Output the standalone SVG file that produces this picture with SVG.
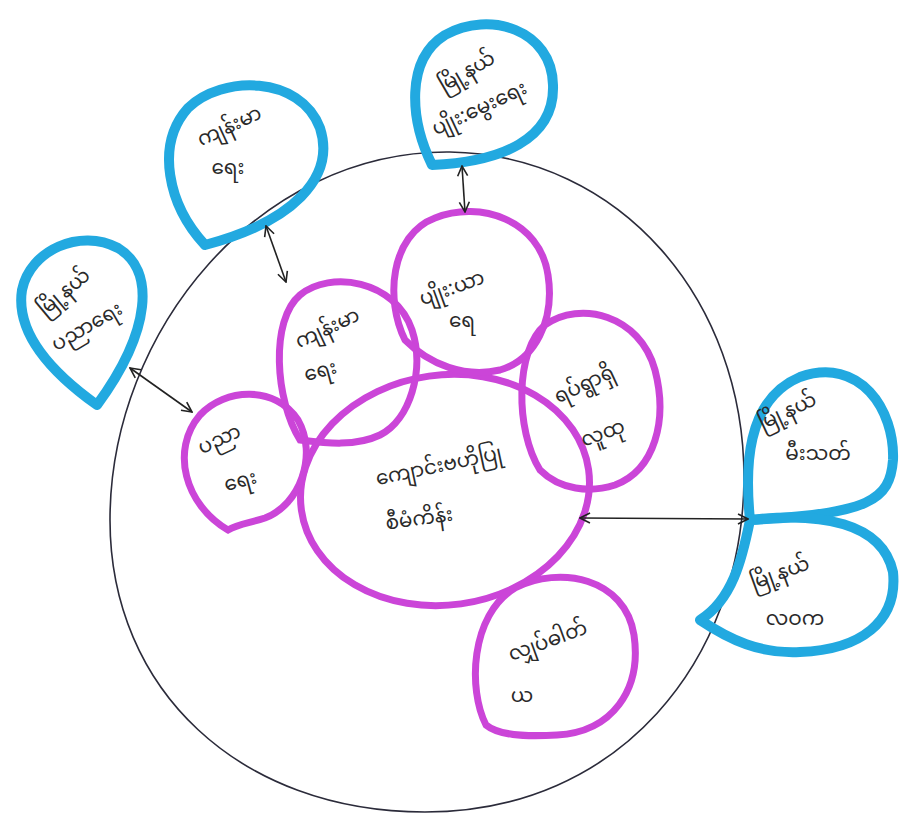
<svg xmlns="http://www.w3.org/2000/svg" width="901" height="818" viewBox="0 0 901 818">
<defs>
<style>
.blue{fill:none;stroke:#22A9E0;stroke-width:10;stroke-linejoin:round}
.purple{fill:none;stroke:#CB45D8;stroke-width:7}
.t{font-family:"Noto Sans Myanmar","Padauk","Myanmar Text","Noto Sans","DejaVu Sans",sans-serif;font-size:20px;fill:#2a2a2a}
.conn{stroke:#222;stroke-width:1.6;fill:none}
</style>
<marker id="ah" viewBox="0 0 12 12" refX="11" refY="6" markerWidth="12" markerHeight="12" markerUnits="userSpaceOnUse" orient="auto-start-reverse">
<path d="M1,1 L11,6 L1,11" fill="none" stroke="#222" stroke-width="1.6"/>
</marker>
</defs>
<rect width="901" height="818" fill="#ffffff"/>
<g id="boundary">
<path d="M450,152 C620,155 745,300 744,480 C742,660 620,812 425,812 C240,812 110,690 110,520 C110,330 260,150 450,152 Z" fill="none" stroke="#2b2b3a" stroke-width="1.6"/>
</g>
<g id="n-center">
<ellipse cx="445" cy="490" rx="145" ry="115" transform="rotate(-8 445 490)" class="purple"/>
<text class="t" x="440" y="472" text-anchor="middle" transform="rotate(-12 440 472)">ကျောင်းဗဟိုပြု</text>
<text class="t" x="420" y="525" text-anchor="middle" transform="rotate(-8 420 525)">စီမံကိန်း</text>
</g>
<g id="n-education">
<path d="M228,530 C185,505 170,450 200,415 C225,388 275,385 298,420 C318,455 300,505 265,518 C250,523 238,524 228,530 Z" class="purple"/>
<text class="t" x="222" y="445" text-anchor="middle" transform="rotate(-25 222 445)">ပညာ</text>
<text class="t" x="242" y="487" text-anchor="middle" transform="rotate(-15 242 487)">ရေး</text>
</g>
<g id="n-health">
<path d="M300,440 C275,400 270,320 300,295 C330,270 395,280 412,330 C425,370 410,420 380,435 C355,447 325,443 300,440 Z" class="purple"/>
<text class="t" x="330" y="334" text-anchor="middle" transform="rotate(-25 330 334)">ကျန်းမာ</text>
<text class="t" x="322" y="377" text-anchor="middle" transform="rotate(-15 322 377)">ရေး</text>
</g>
<g id="n-water">
<path d="M405,340 C385,300 390,235 435,218 C480,200 540,220 548,275 C555,320 535,360 500,370 C465,378 430,365 405,340 Z" class="purple"/>
<text class="t" x="454" y="294" text-anchor="middle" transform="rotate(-20 454 294)">ပျိုး:ယာ</text>
<text class="t" x="462" y="327" text-anchor="middle">ရေ</text>
</g>
<g id="n-community">
<path d="M540,470 C515,430 515,350 545,325 C580,300 640,315 655,370 C668,420 655,470 615,485 C590,493 560,490 540,470 Z" class="purple"/>
<text class="t" x="587" y="390" text-anchor="middle" transform="rotate(-25 587 390)">ရပ်ရွာရှိ</text>
<text class="t" x="605" y="439" text-anchor="middle" transform="rotate(-20 605 439)">လူထု</text>
</g>
<g id="n-bottom">
<path d="M486,725 C468,690 470,615 515,588 C560,565 625,578 634,635 C642,690 612,732 557,735 C522,737 498,735 486,725 Z" class="purple"/>
<text class="t" x="550" y="647" text-anchor="middle" transform="rotate(-20 550 647)">လျှပ်ဓါတ်</text>
<text class="t" x="522" y="702" text-anchor="middle">ယ</text>
</g>
<g id="b-education">
<path d="M97,405 C55,375 15,335 22,290 C30,250 80,228 118,248 C155,270 152,330 97,405 Z" class="blue"/>
<text class="t" x="68" y="297" text-anchor="middle" transform="rotate(-40 68 297)">မြို့နယ်</text>
<text class="t" x="90" y="332" text-anchor="middle" transform="rotate(-30 90 332)">ပညာရေး</text>
</g>
<g id="b-health">
<path d="M205,245 C168,205 155,145 188,108 C222,75 300,75 320,128 C336,178 292,222 205,245 Z" class="blue"/>
<text class="t" x="232" y="132" text-anchor="middle" transform="rotate(-25 232 132)">ကျန်းမာ</text>
<text class="t" x="228" y="174" text-anchor="middle">ရေး</text>
</g>
<g id="b-agri">
<path d="M432,165 C410,120 405,60 445,35 C490,10 552,30 553,85 C555,140 500,162 432,165 Z" class="blue"/>
<text class="t" x="470" y="77" text-anchor="middle" transform="rotate(-30 470 77)">မြို့နယ်</text>
<text class="t" x="482" y="114" text-anchor="middle" transform="rotate(-25 482 114)">ပျိုး:မွေးရေး</text>
</g>
<g id="b-fire">
<path d="M750,520 C745,470 745,400 800,377 C860,356 895,410 893,460 C890,500 870,514 750,520 Z" class="blue"/>
<text class="t" x="790" y="417" text-anchor="middle" transform="rotate(-25 790 417)">မြို့နယ်</text>
<text class="t" x="818" y="460" text-anchor="middle">မီးသတ်</text>
</g>
<g id="b-immigration">
<path d="M750,520 C820,512 882,522 893,572 C898,622 860,650 800,652 C760,654 730,640 700,620 C732,600 742,560 750,520 Z" class="blue"/>
<text class="t" x="782" y="579" text-anchor="middle" transform="rotate(-20 782 579)">မြို့နယ်</text>
<text class="t" x="795" y="625" text-anchor="middle">လဝက</text>
</g>
<g id="connectors">
<line x1="130" y1="368" x2="192" y2="412" class="conn" marker-start="url(#ah)" marker-end="url(#ah)"/>
<line x1="266" y1="226" x2="286" y2="282" class="conn" marker-start="url(#ah)" marker-end="url(#ah)"/>
<line x1="462" y1="166" x2="465" y2="212" class="conn" marker-start="url(#ah)" marker-end="url(#ah)"/>
<line x1="580" y1="518" x2="748" y2="519" class="conn" marker-start="url(#ah)" marker-end="url(#ah)"/>
</g>
</svg>
